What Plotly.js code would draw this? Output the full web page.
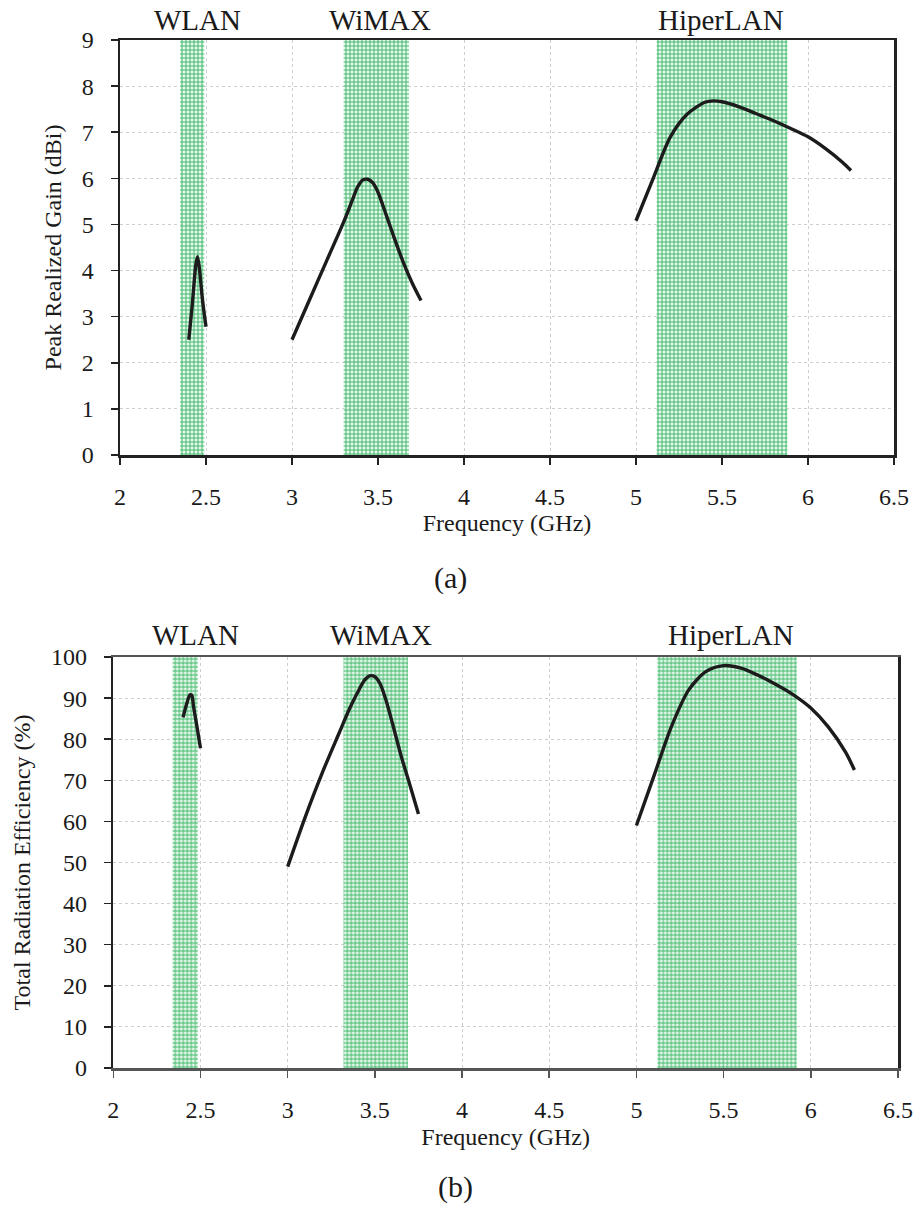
<!DOCTYPE html>
<html>
<head>
<meta charset="utf-8">
<script src="https://cdn.plot.ly/plotly-3.0.1.min.js"></script>
<style>html,body{margin:0;padding:0;background:#fff;}#chart{width:916px;height:1207px;}</style>
</head>
<body>
<div id="chart"></div>
<script>
// ---------- Data ----------
const bandNames = ["WLAN", "WiMAX", "HiperLAN"];
// band edges (GHz) for panel (a) and (b)
const bandStartA = [2.35, 3.30, 5.12];
const bandEndA   = [2.49, 3.68, 5.88];
const bandStartB = [2.34, 3.32, 5.12];
const bandEndB   = [2.485, 3.69, 5.92];
// label x positions (GHz)
const labelXA = [2.453, 3.509, 5.494];
const labelXB = [2.472, 3.536, 5.545];

// (a) Peak realized gain (dBi)
const gainWlanF = [2.40, 2.42, 2.44, 2.45, 2.46, 2.48, 2.50];
const gainWlanV = [2.50, 3.25, 4.10, 4.30, 4.10, 3.35, 2.78];
const gainWimaxF = [3.00, 3.10, 3.20, 3.30, 3.35, 3.38, 3.41, 3.44, 3.47, 3.50, 3.55, 3.60, 3.65, 3.70, 3.75];
const gainWimaxV = [2.50, 3.35, 4.20, 5.05, 5.52, 5.80, 5.96, 5.98, 5.90, 5.70, 5.18, 4.65, 4.15, 3.72, 3.35];
const gainHiperF = [5.00, 5.10, 5.20, 5.30, 5.40, 5.45, 5.50, 5.60, 5.70, 5.80, 5.90, 6.00, 6.10, 6.20, 6.25];
const gainHiperV = [5.08, 6.00, 6.90, 7.40, 7.65, 7.68, 7.66, 7.55, 7.40, 7.25, 7.08, 6.90, 6.65, 6.35, 6.17];

// (b) Total radiation efficiency (%)
const effWlanF = [2.40, 2.42, 2.44, 2.45, 2.46, 2.48, 2.50];
const effWlanV = [85.3, 88.5, 90.8, 90.7, 88.0, 83.0, 77.8];
const effWimaxF = [3.00, 3.10, 3.20, 3.30, 3.35, 3.40, 3.44, 3.47, 3.50, 3.53, 3.56, 3.60, 3.65, 3.70, 3.75];
const effWimaxV = [49.0, 61.0, 72.0, 82.0, 87.0, 91.3, 94.3, 95.4, 95.2, 93.5, 90.0, 84.0, 76.0, 69.0, 61.8];
const effHiperF = [5.00, 5.10, 5.20, 5.30, 5.40, 5.50, 5.60, 5.70, 5.80, 5.90, 6.00, 6.10, 6.20, 6.25];
const effHiperV = [59.0, 71.0, 83.0, 92.0, 96.5, 97.9, 97.3, 95.5, 93.3, 90.8, 87.6, 83.0, 76.8, 72.5];

const xTicks = [2, 2.5, 3, 3.5, 4, 4.5, 5, 5.5, 6, 6.5];
const xTickText = ["2", "2.5", "3", "3.5", "4", "4.5", "5", "5.5", "6", "6.5"];

// ---------- Build ----------
const FONT = "'Liberation Serif', 'Times New Roman', serif";
const TXT = "#1a1a1a";
const traces = [];

function bandTraces(starts, ends, ymin, ymax, xa, ya) {
  for (let i = 0; i < starts.length; i++) {
    traces.push({
      type: "scatter", mode: "none", xaxis: xa, yaxis: ya,
      x: [starts[i], ends[i], ends[i], starts[i], starts[i]],
      y: [ymin, ymin, ymax, ymax, ymin],
      fill: "toself",
      fillcolor: "rgba(200,238,212,0.6)",
      fillpattern: { shape: "+", fgcolor: "rgba(30,170,80,0.8)", bgcolor: "rgba(210,242,220,0.55)", size: 4, solidity: 0.45 },
      hoverinfo: "skip", showlegend: false
    });
  }
}
function curve(x, y, xa, ya) {
  traces.push({
    type: "scatter", mode: "lines", xaxis: xa, yaxis: ya, x: x, y: y,
    line: { color: "#1c1c1c", width: 3.4, shape: "spline", smoothing: 0.8 },
    showlegend: false
  });
}

bandTraces(bandStartA, bandEndA, 0, 9, "x", "y");
bandTraces(bandStartB, bandEndB, 0, 100, "x2", "y2");
curve(gainWlanF, gainWlanV, "x", "y");
curve(gainWimaxF, gainWimaxV, "x", "y");
curve(gainHiperF, gainHiperV, "x", "y");
curve(effWlanF, effWlanV, "x2", "y2");
curve(effWimaxF, effWimaxV, "x2", "y2");
curve(effHiperF, effHiperV, "x2", "y2");

const W = 916, H = 1207;
const px = v => v / W, py = v => 1 - v / H;

function xAxis(domain, anchor, lineColor, standoff) {
  return {
    domain: domain, anchor: anchor, range: [2, 6.5],
    tickmode: "array", tickvals: xTicks, ticktext: xTickText,
    ticks: "outside", ticklen: 7, tickwidth: 1.5, tickcolor: lineColor,
    ticklabelstandoff: 12,
    showline: true, linecolor: lineColor, linewidth: 2.5, mirror: true,
    showgrid: true, gridcolor: "#cfcfcf", griddash: "dot", gridwidth: 1,
    zeroline: false,
    tickfont: { family: FONT, size: 24, color: TXT },
    title: { text: "Frequency (GHz)", font: { family: FONT, size: 24, color: TXT }, standoff: standoff }
  };
}
function yAxis(domain, anchor, range, dtick, title) {
  return {
    domain: domain, anchor: anchor, range: range,
    tickmode: "linear", tick0: 0, dtick: dtick,
    ticks: "outside", ticklen: 7, tickwidth: 1.5, tickcolor: "#222",
    ticklabelstandoff: 12,
    showline: true, linecolor: "#222", linewidth: 2.5, mirror: true,
    showgrid: true, gridcolor: "#cfcfcf", griddash: "dot", gridwidth: 1,
    zeroline: false,
    tickfont: { family: FONT, size: 24, color: TXT },
    title: { text: title, font: { family: FONT, size: 24, color: TXT }, standoff: 14 }
  };
}

const annotations = [];
for (let i = 0; i < bandNames.length; i++) {
  annotations.push({ xref: "x", yref: "paper", x: labelXA[i], y: py(20), text: bandNames[i], showarrow: false,
    xanchor: "center", yanchor: "middle", font: { family: FONT, size: 29, color: TXT } });
  annotations.push({ xref: "x2", yref: "paper", x: labelXB[i], y: py(635), text: bandNames[i], showarrow: false,
    xanchor: "center", yanchor: "middle", font: { family: FONT, size: 29, color: TXT } });
}
annotations.push({ xref: "paper", yref: "paper", x: px(450), y: py(578), text: "(a)", showarrow: false,
  xanchor: "center", yanchor: "middle", font: { family: FONT, size: 30, color: TXT } });
annotations.push({ xref: "paper", yref: "paper", x: px(455), y: py(1187), text: "(b)", showarrow: false,
  xanchor: "center", yanchor: "middle", font: { family: FONT, size: 30, color: TXT } });

const layout = {
  width: W, height: H,
  margin: { l: 0, r: 0, t: 0, b: 0 },
  paper_bgcolor: "#fff", plot_bgcolor: "#fff",
  showlegend: false,
  xaxis: xAxis([px(120), px(894)], "y", "#222", 0),
  yaxis: yAxis([py(455), py(40)], "x", [0, 9], 1, "Peak Realized Gain (dBi)"),
  xaxis2: xAxis([px(113.3), px(898)], "y2", "#555", 6),
  yaxis2: yAxis([py(1068), py(657)], "x2", [0, 100], 10, "Total Radiation Efficiency (%)"),
  annotations: annotations
};

Plotly.newPlot("chart", traces, layout, { displayModeBar: false, staticPlot: true });
</script>
</body>
</html>
